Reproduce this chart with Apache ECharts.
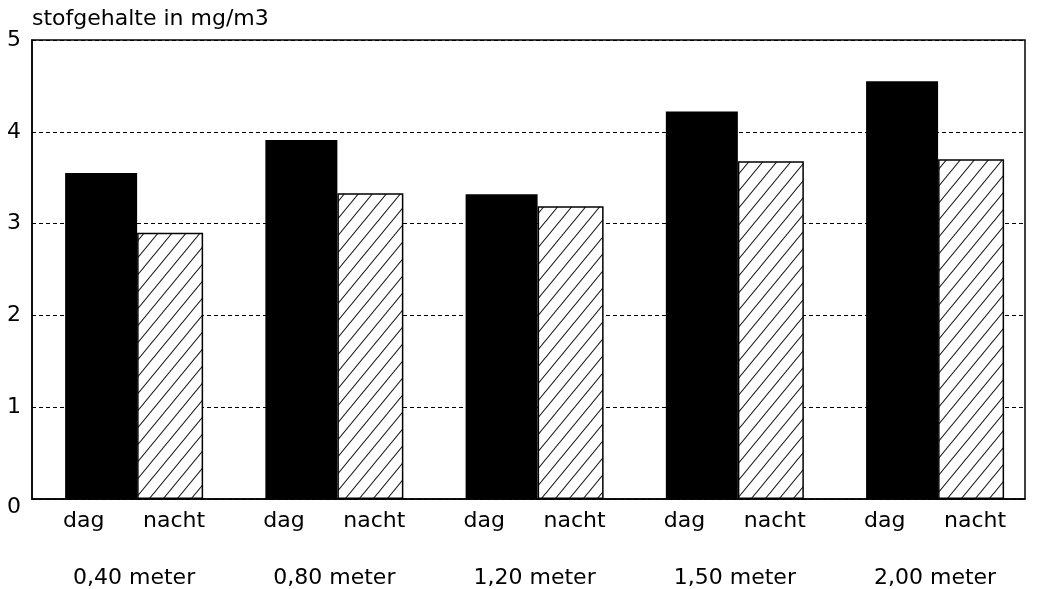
<!DOCTYPE html>
<html>
<head>
<meta charset="utf-8">
<script src="https://cdn.jsdelivr.net/npm/echarts@6/dist/echarts.min.js"></script>
<style>
html,body{margin:0;padding:0;background:#fff;}
#c{width:1038px;height:589px;}
</style>
</head>
<body>
<div id="c"></div>
<script>
// ---- data ----
const categories = ['0,40 meter', '0,80 meter', '1,20 meter', '1,50 meter', '2,00 meter'];
const seriesNames = ['dag', 'nacht'];
const dagValues = [3.55, 3.91, 3.32, 4.22, 4.55];
const nachtValues = [2.90, 3.33, 3.19, 3.68, 3.70];
const yTicks = [0, 1, 2, 3, 4, 5];
const yTitle = 'stofgehalte in mg/m3';

// ---- hatch pattern ----
function makeHatch() {
  const w = 14, h = 17;
  const cv = document.createElement('canvas');
  cv.width = w; cv.height = h;
  const ctx = cv.getContext('2d');
  ctx.fillStyle = '#fff';
  ctx.fillRect(0, 0, w, h);
  ctx.strokeStyle = '#1a1a1a';
  ctx.lineWidth = 1.1;
  ctx.beginPath();
  ctx.moveTo(-w, 2 * h); ctx.lineTo(2 * w, -h);
  ctx.moveTo(-2 * w, 2 * h); ctx.lineTo(w, -h);
  ctx.moveTo(0, 2 * h); ctx.lineTo(3 * w, -h);
  ctx.stroke();
  return cv;
}
const hatch = makeHatch();

const FONT = '"DejaVu Sans", "Liberation Sans", Arial, sans-serif';
const chart = echarts.init(document.getElementById('c'), null, {renderer: 'canvas'});

const idx = categories.map((c, i) => i);

chart.setOption({
  animation: false,
  backgroundColor: '#fff',
  grid: {
    left: 32, right: 13, top: 40, bottom: 90,
    show: true, borderColor: '#000', borderWidth: 1.5, backgroundColor: 'transparent'
  },
  xAxis: {
    type: 'value',
    min: -0.51, max: 4.449,
    axisLine: {show: true, onZero: false, lineStyle: {color: '#000', width: 1.5}},
    axisTick: {show: false},
    axisLabel: {show: false},
    splitLine: {show: false}
  },
  yAxis: {
    type: 'value',
    min: yTicks[0], max: yTicks[yTicks.length - 1], interval: 1,
    name: yTitle,
    nameLocation: 'end',
    nameGap: 10,
    nameTextStyle: {fontFamily: FONT, fontSize: 22, color: '#000', align: 'left'},
    axisLine: {show: true, onZero: false, lineStyle: {color: '#000', width: 1.5}},
    axisTick: {show: false},
    axisLabel: {
      margin: 11,
      fontFamily: FONT, fontSize: 22, color: '#000',
      formatter: v => v === 0 ? '{z|0}' : String(v),
      rich: {z: {fontFamily: FONT, fontSize: 22, color: '#000', padding: [16, 0, 0, 0]}}
    },
    splitLine: {show: true, lineStyle: {color: '#000', type: [4, 3], width: 1.2}}
  },
  series: [
    {
      name: seriesNames[0],
      type: 'bar',
      barWidth: 72,
      barGap: '0%',
      data: dagValues.map((v, i) => [idx[i], v]),
      itemStyle: {color: '#000'},
      label: {
        show: true, position: 'bottom', distance: 11,
        align: 'left', offset: [-38, 0],
        formatter: () => seriesNames[0],
        fontFamily: FONT, fontSize: 22, color: '#000'
      }
    },
    {
      name: seriesNames[1],
      type: 'bar',
      barWidth: 66,
      barGap: '0%',
      data: nachtValues.map((v, i) => [idx[i], v]),
      itemStyle: {color: {image: hatch, repeat: 'repeat'}, borderColor: '#000', borderWidth: 1.5},
      label: {
        show: true, position: 'bottom', distance: 11,
        offset: [4, 0],
        formatter: () => seriesNames[1],
        fontFamily: FONT, fontSize: 22, color: '#000'
      }
    },
    {
      name: 'groups',
      type: 'scatter',
      symbolSize: 0,
      silent: true,
      clip: false,
      itemStyle: {opacity: 1},
      data: idx.map(i => [i, 0]),
      label: {
        show: true, position: 'bottom', distance: 68,
        formatter: p => categories[p.dataIndex],
        fontFamily: FONT, fontSize: 22, color: '#000'
      }
    }
  ]
});
</script>
</body>
</html>
